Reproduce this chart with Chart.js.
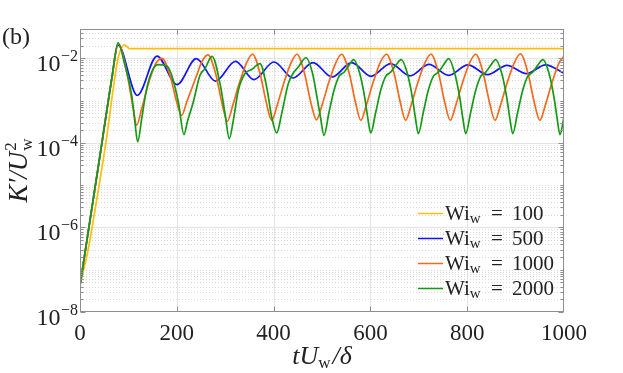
<!DOCTYPE html>
<html>
<head>
    <title>K' / Uw^2 versus t Uw / delta</title>
    <script src="https://cdn.jsdelivr.net/npm/chart.js"></script>
    <style>
        html, body { margin: 0; padding: 0; background: #fff; }
        #wrap { width: 623px; height: 373px; }
    </style>
</head>
<body>
<div id="wrap"><canvas id="chart" width="623" height="373"></canvas></div>
<script>
    // values (t, K'/Uw^2)
    const yellowT = [0, 16.5, 37.8, 55.2, 68.2, 79.1, 91.9, 103.3, 113.6, 1000];
    const yellowK = [4.27e-8, 2.88e-7, 7.55e-6, 1.36e-4, 1.75e-3, 1.06e-2, 2.08e-2, 1.68e-2, 1.70e-2, 1.70e-2];

    const blueT = [0, 46.1, 66.1, 78.5, 118.4, 159.1, 200.4, 240.3, 280.0, 321.3, 359.5, 400.8, 440.1, 481.4,
        520.7, 561.4, 601.2, 641.5, 681.8, 721.1, 761.8, 801.7, 841.9, 882.2, 922.5, 961.8, 1000];
    const blueK = [4.27e-8, 1.15e-4, 3.56e-3, 2.08e-2, 1.33e-3, 1.13e-2, 2.39e-3, 9.84e-3, 2.90e-3, 8.49e-3, 3.13e-3, 8.17e-3, 3.42e-3, 7.91e-3,
        3.61e-3, 7.91e-3, 3.75e-3, 7.50e-3, 3.86e-3, 7.21e-3, 3.96e-3, 7.02e-3, 4.11e-3, 6.83e-3, 4.35e-3, 7.02e-3, 4.42e-3];

    const orangeT = [0, 46.1, 66.1, 79.1, 96.5, 110.1, 117.1, 127.5, 144.6, 157.0, 169.4, 186.0, 199.8, 210.1, 220.5, 241.1, 252.1, 264.5,
        280.0, 293.4, 304.3, 315.7, 329.1, 344.6, 356.4,
        371.9, 385.3, 396.1, 407.4, 420.9, 436.4, 448.3,
        463.8, 477.3, 488.6, 500.0, 513.4, 528.9, 540.7,
        556.2, 569.6, 580.2, 591.5, 605.0, 620.5, 633.3,
        648.8, 662.2, 672.7, 684.1, 697.5, 713.0, 725.2,
        740.7, 754.1, 765.1, 776.4, 789.9, 805.4, 817.6,
        833.1, 846.5, 857.4, 868.8, 882.2, 897.7, 910.1,
        925.6, 939.0, 950.0, 961.4, 974.8, 990.3, 1000];
    const orangeK = [4.27e-8, 1.15e-4, 3.56e-3, 2.20e-2, 4.74e-3, 6.46e-4, 2.60e-4, 6.46e-4, 3.31e-3, 7.62e-3, 1.00e-2, 3.96e-3, 9.25e-4, 4.49e-4, 9.25e-4, 3.96e-3, 8.49e-3, 1.21e-2,
        4.42e-3, 8.63e-4, 3.24e-4, 7.73e-4, 2.56e-3, 8.04e-3, 1.245e-2,
        4.42e-3, 8.63e-4, 3.42e-4, 7.73e-4, 2.56e-3, 8.04e-3, 1.245e-2,
        4.42e-3, 8.63e-4, 3.51e-4, 7.73e-4, 2.56e-3, 8.04e-3, 1.245e-2,
        4.42e-3, 8.63e-4, 3.42e-4, 7.73e-4, 2.56e-3, 8.04e-3, 1.245e-2,
        4.42e-3, 8.63e-4, 3.42e-4, 7.73e-4, 2.56e-3, 8.04e-3, 1.245e-2,
        4.42e-3, 8.63e-4, 3.42e-4, 7.73e-4, 2.56e-3, 8.04e-3, 1.245e-2,
        4.42e-3, 8.63e-4, 3.42e-4, 7.73e-4, 2.56e-3, 8.04e-3, 1.28e-2,
        4.42e-3, 8.63e-4, 3.42e-4, 7.73e-4, 2.56e-3, 8.04e-3, 1.115e-2];

    const greenT = [0, 46.1, 66.1, 78.5, 93.0, 106.8, 113.6, 119.2, 127.5, 137.8, 151.4, 161.8, 179.1, 189.5, 203.1, 214.9, 221.7,
        234.1, 247.9, 258.3, 272.7, 289.3, 299.6, 308.5, 316.8, 327.1, 340.9, 354.8, 371.9, 385.7, 396.1, 406.4, 416.7,
        430.4, 440.7, 451.0, 466.9,
        480.4, 489.7, 496.9, 504.1, 514.5, 524.8, 535.1, 545.5, 555.8, 565.5,
        577.9, 588.2, 594.4, 600.6, 611.0, 621.3, 631.6, 641.9, 652.3, 663.8,
        676.2, 686.6, 692.8, 699.0, 709.3, 719.6, 730.0, 740.3, 750.6, 761.8,
        774.2, 784.5, 790.7, 796.9, 807.2, 817.6, 827.9, 838.2, 848.6, 858.9,
        871.3, 881.6, 887.8, 894.0, 904.3, 914.7, 925.0, 935.3, 945.7, 956.6,
        969.0, 979.3, 985.5, 991.7, 1000];
    const greenK = [4.27e-8, 1.15e-4, 3.56e-3, 2.33e-2, 6.83e-3, 1.33e-3, 3.01e-4, 1.05e-4, 3.75e-4, 1.92e-3, 5.70e-3, 7.10e-3, 6.58e-3, 3.96e-3, 9.25e-4, 1.57e-4, 3.11e-4,
        9.25e-4, 3.96e-3, 5.70e-3, 1.115e-2, 2.52e-3, 4.92e-4, 1.26e-4, 3.42e-4, 1.75e-3, 4.35e-3, 5.41e-3, 7.50e-3, 2.09e-3, 4.09e-4, 1.71e-4, 4.92e-4,
        2.52e-3, 4.49e-3, 6.22e-3, 1.03e-2,
        4.42e-3, 1.20e-3, 4.03e-4, 1.51e-4, 5.28e-4, 1.75e-3, 3.75e-3, 4.67e-3, 6.83e-3, 9.31e-3,
        4.42e-3, 1.20e-3, 4.03e-4, 1.71e-4, 5.28e-4, 1.75e-3, 3.75e-3, 4.67e-3, 6.83e-3, 9.31e-3,
        4.42e-3, 1.20e-3, 4.03e-4, 1.66e-4, 5.28e-4, 1.75e-3, 3.75e-3, 4.67e-3, 6.83e-3, 9.84e-3,
        4.42e-3, 1.20e-3, 4.03e-4, 1.66e-4, 5.28e-4, 1.75e-3, 3.75e-3, 4.67e-3, 6.83e-3, 9.31e-3,
        4.42e-3, 1.20e-3, 4.03e-4, 1.66e-4, 5.28e-4, 1.75e-3, 3.75e-3, 4.67e-3, 6.83e-3, 9.31e-3,
        4.42e-3, 1.20e-3, 4.03e-4, 1.57e-4, 4.09e-4];

    const xTicks = [0, 200, 400, 600, 800, 1000];
    const yDecades = [-8, -6, -4, -2];
    const legendValues = ['100', '500', '1000', '2000'];
    const seriesColors = ['#FFBE0B', '#1414F5', '#F36A1A', '#159A15'];

    const serif = '"Liberation Serif", "DejaVu Serif", serif';
    const textColor = '#222';

    function pairs(t, k) {
        return t.map((v, i) => ({ x: v, y: k[i] }));
    }

    // grid, box, tick marks, custom labels with sub/superscripts
    const decor = {
        id: 'decor',
        beforeDatasetsDraw(chart) {
            const { ctx, chartArea: a, scales: { x, y } } = chart;
            ctx.save();
            ctx.lineWidth = 1;
            // minor log grid (dotted)
            ctx.strokeStyle = '#dadada';
            ctx.setLineDash([1, 2]);
            for (let d = -8; d <= -2; d++) {
                for (let m = 1; m <= 9; m++) {
                    const v = m * Math.pow(10, d);
                    if (m === 1 && yDecades.includes(d)) continue;
                    if (v > y.max) continue;
                    const py = Math.round(y.getPixelForValue(v)) + 0.5;
                    ctx.beginPath(); ctx.moveTo(a.left, py); ctx.lineTo(a.right, py); ctx.stroke();
                }
            }
            // major grid
            ctx.setLineDash([]);
            ctx.strokeStyle = '#e4e4e4';
            xTicks.slice(1, -1).forEach(t => {
                const px = Math.round(x.getPixelForValue(t)) + 0.5;
                ctx.beginPath(); ctx.moveTo(px, a.top); ctx.lineTo(px, a.bottom); ctx.stroke();
            });
            yDecades.slice(1).forEach(d => {
                const py = Math.round(y.getPixelForValue(Math.pow(10, d))) + 0.5;
                ctx.beginPath(); ctx.moveTo(a.left, py); ctx.lineTo(a.right, py); ctx.stroke();
            });
            ctx.restore();
        },
        afterDatasetsDraw(chart) {
            const { ctx, chartArea: a, scales: { x, y } } = chart;
            ctx.save();
            ctx.strokeStyle = '#8f8f8f';
            ctx.lineWidth = 1;
            const L = Math.round(a.left) + 0.5, R = Math.round(a.right) - 0.5;
            const T = Math.round(a.top) + 0.5, B = Math.round(a.bottom) - 0.5;
            ctx.strokeRect(L, T, R - L, B - T);
            ctx.beginPath();
            xTicks.slice(1, -1).forEach(t => {
                const px = Math.round(x.getPixelForValue(t)) + 0.5;
                ctx.moveTo(px, B); ctx.lineTo(px, B - 5);
                ctx.moveTo(px, T); ctx.lineTo(px, T + 5);
            });
            for (let d = -8; d <= -2; d++) {
                for (let m = 1; m <= 9; m++) {
                    const v = m * Math.pow(10, d);
                    if (v > y.max) continue;
                    const len = (m === 1 && yDecades.includes(d)) ? 5 : 3;
                    const py = Math.round(y.getPixelForValue(v)) + 0.5;
                    ctx.moveTo(L, py); ctx.lineTo(L + len, py);
                    ctx.moveTo(R, py); ctx.lineTo(R - len, py);
                }
            }
            ctx.stroke();
            ctx.restore();
        },
        afterDraw(chart) {
            const { ctx, chartArea: a, scales: { y } } = chart;
            ctx.save();
            ctx.fillStyle = textColor;
            ctx.textBaseline = 'alphabetic';

            // y tick labels 10^n
            yDecades.forEach(d => {
                const py = y.getPixelForValue(Math.pow(10, d));
                const sup = '\u2212' + Math.abs(d);
                ctx.font = '16px ' + serif;
                ctx.textAlign = 'right';
                const supW = ctx.measureText(sup).width;
                ctx.fillText(sup, a.left - 2, py + 3);
                ctx.font = '24px ' + serif;
                ctx.fillText('10', a.left - 2 - supW - 0.5, py + 13);
            });

            // panel tag
            ctx.textAlign = 'left';
            ctx.font = '24px ' + serif;
            ctx.fillText('(b)', 2, 44);

            // x title: t U_w / delta
            const big = 'italic 26px ' + serif, small = '17px ' + serif;
            ctx.font = big; const w1 = ctx.measureText('tU').width;
            ctx.font = small; const w2 = ctx.measureText('w').width;
            ctx.font = big; const w3 = ctx.measureText('/\u03b4').width;
            let cx = (a.left + a.right) / 2 - (w1 + w2 + w3 + 2) / 2;
            ctx.font = big; ctx.fillText('tU', cx, 364); cx += w1;
            ctx.font = small; ctx.fillText('w', cx, 368); cx += w2 + 2;
            ctx.font = big; ctx.fillText('/\u03b4', cx, 364);

            // y title: K' / U_w^2 (rotated)
            ctx.translate(27, (a.top + a.bottom) / 2);
            ctx.rotate(-Math.PI / 2);
            const yb = 'italic 27px ' + serif;
            ctx.font = yb; const k1 = ctx.measureText('K\u2032/U').width;
            ctx.font = small; const k2 = Math.max(ctx.measureText('2').width, ctx.measureText('w').width);
            let ty = -(k1 + k2 + 1) / 2;
            ctx.font = yb; ctx.fillText('K\u2032/U', ty, 0); ty += k1 + 1;
            ctx.font = small; ctx.fillText('2', ty, -11); ctx.fillText('w', ty, 5);
            ctx.setTransform(1, 0, 0, 1, 0, 0);

            // legend
            legendValues.forEach((val, i) => {
                const ly = 213 + 25 * i;
                ctx.strokeStyle = seriesColors[i];
                ctx.lineWidth = 1.5;
                ctx.beginPath(); ctx.moveTo(418, ly + 0.5); ctx.lineTo(443, ly + 0.5); ctx.stroke();
                ctx.textAlign = 'left';
                ctx.font = '21px ' + serif;
                ctx.fillText('Wi', 445, ly + 7);
                const wiW = ctx.measureText('Wi').width;
                ctx.font = '15px ' + serif;
                ctx.fillText('w', 445 + wiW, ly + 10);
                ctx.font = '21px ' + serif;
                ctx.textAlign = 'center';
                ctx.fillText('=', 497, ly + 7);
                ctx.textAlign = 'left';
                ctx.fillText(val, 512, ly + 7);
            });
            ctx.restore();
        }
    };

    const datasets = [
        { label: 'Wi_w = 100', data: pairs(yellowT, yellowK), borderColor: seriesColors[0], order: 3 },
        { label: 'Wi_w = 500', data: pairs(blueT, blueK), borderColor: seriesColors[1], order: 2 },
        { label: 'Wi_w = 1000', data: pairs(orangeT, orangeK), borderColor: seriesColors[2], order: 1 },
        { label: 'Wi_w = 2000', data: pairs(greenT, greenK), borderColor: seriesColors[3], order: 0 }
    ];

    new Chart(document.getElementById('chart'), {
        type: 'line',
        data: { datasets },
        options: {
            responsive: false,
            animation: false,
            devicePixelRatio: 1,
            layout: { padding: { left: 0, top: 29, right: 59, bottom: 0 } },
            plugins: { legend: { display: false }, tooltip: { enabled: false } },
            elements: {
                point: { radius: 0 },
                line: { borderWidth: 1.7, cubicInterpolationMode: 'monotone', fill: false }
            },
            scales: {
                x: {
                    type: 'linear', min: 0, max: 1000,
                    afterBuildTicks: s => { s.ticks = xTicks.map(v => ({ value: v })); },
                    ticks: { padding: 8, color: textColor, font: { family: serif, size: 23 }, maxRotation: 0,
                        callback: v => String(v) },
                    grid: { display: false, drawTicks: false },
                    border: { display: false },
                    afterFit: s => { s.height = 61; }
                },
                y: {
                    type: 'logarithmic', min: 1e-8, max: 0.0493,
                    ticks: { display: false },
                    grid: { display: false, drawTicks: false },
                    border: { display: false },
                    afterFit: s => { s.width = 80; }
                }
            }
        },
        plugins: [decor]
    });
</script>
</body>
</html>
